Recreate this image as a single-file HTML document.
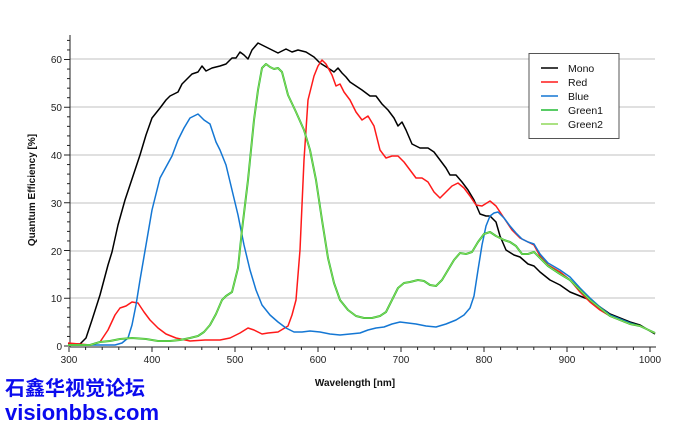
<!DOCTYPE html>
<html><head><meta charset="utf-8"><style>
body{margin:0;background:#fff;width:690px;height:428px;overflow:hidden;font-family:"Liberation Sans",sans-serif}
svg{position:absolute;left:0;top:0}
.wm{position:absolute;left:5px;color:#0a0aee;font-weight:bold;font-family:"Liberation Sans","Noto Sans CJK SC",sans-serif;white-space:nowrap}
</style></head><body>
<svg width="690" height="428" xmlns="http://www.w3.org/2000/svg" font-family="Liberation Sans, sans-serif">
<g stroke="#d6d6d6" stroke-width="1.5">
<line x1="70" x2="655" y1="59" y2="59"/><line x1="70" x2="655" y1="107" y2="107"/><line x1="70" x2="655" y1="155" y2="155"/><line x1="70" x2="655" y1="203" y2="203"/><line x1="70" x2="655" y1="251" y2="251"/><line x1="70" x2="655" y1="298" y2="298"/>
</g>
<g stroke="#222" stroke-width="1">
<line x1="70" y1="35" x2="70" y2="347"/><line x1="70" y1="347" x2="656" y2="347"/>
</g>
<g stroke="#222" stroke-width="1" id="ticks"></g>
<g font-size="10" fill="#222" text-anchor="end">
<text x="62" y="350">0</text><text x="62" y="302">10</text><text x="62" y="255">20</text><text x="62" y="207">30</text><text x="62" y="159">40</text><text x="62" y="111">50</text><text x="62" y="63">60</text>
</g>
<g font-size="10" fill="#222" text-anchor="middle">
<text x="69" y="363">300</text><text x="152" y="363">400</text><text x="235" y="363">500</text><text x="318" y="363">600</text><text x="401" y="363">700</text><text x="484" y="363">800</text><text x="567" y="363">900</text><text x="650" y="363">1000</text>
</g>
<text x="355" y="386" font-size="10" font-weight="bold" text-anchor="middle" fill="#111">Wavelength [nm]</text>
<text transform="translate(35,190) rotate(-90)" font-size="10" font-weight="bold" text-anchor="middle" fill="#111">Quantum Efficiency [%]</text>
<g fill="none" stroke-width="1.5" stroke-linejoin="round">
<polyline stroke="#000" points="68,344 80,344 86,338 92,320 100,295 108,265 112,252 118,225 125,200 130,185 135,170 140,155 146,135 152,118 160,108 166,100 170,96 178,92 182,84 186,80 192,74 198,72 202,66 206,71 212,68 220,66 226,64 232,58 236,58 240,52 244,55 248,59 252,50 258,43 264,46 270,49 278,53 286,49 292,52 298,50 306,52 314,57 320,63 328,68 334,72 338,68 342,73 346,77 350,82 356,86 362,90 370,96 376,96 382,104 388,110 394,118 398,126 402,122 406,130 412,144 420,148 428,148 434,152 440,160 446,168 450,175 456,175 462,182 468,190 474,200 480,214 486,216 490,216 496,222 500,236 506,250 514,255 520,257 528,264 534,266 540,272 550,280 560,285 570,292 580,296 590,300 600,307 610,314 620,318 630,322 640,325 655,334"/>
<polyline stroke="#ff1a1a" points="68,343 90,345 100,342 108,330 115,315 120,308 126,306 132,302 138,303 144,312 150,320 158,328 166,334 176,338 190,341 205,340 220,340 230,338 240,333 248,328 254,330 262,334 268,333 278,332 288,326 292,315 296,300 300,250 304,160 308,100 314,76 318,66 322,60 326,64 332,75 336,86 340,84 344,92 350,100 356,112 362,120 368,116 374,126 380,150 386,158 392,156 398,156 404,162 410,170 416,178 422,178 428,182 434,192 440,198 446,192 452,186 458,183 464,188 470,196 476,205 482,206 490,201 496,206 504,218 512,230 520,238 528,242 534,245 540,256 548,265 560,272 570,280 580,292 590,302 600,310 610,316 620,320 630,324 640,326 655,333"/>
<polyline stroke="#1477d4" points="68,345 115,345 122,343 128,338 132,325 136,305 140,280 146,245 152,210 160,178 166,167 172,156 178,140 184,128 190,118 196,115 198,114 204,120 210,124 216,142 220,150 226,165 232,190 238,215 244,245 250,270 256,290 262,305 270,315 278,322 286,328 294,332 302,332 310,331 320,332 330,334 340,335 350,334 360,333 368,330 376,328 384,327 392,324 400,322 408,323 416,324 426,326 436,327 446,324 456,320 464,315 470,308 474,296 478,270 482,245 486,226 490,216 494,213 498,212 504,218 510,226 516,233 522,239 528,242 534,244 540,254 548,263 560,270 570,277 580,288 590,298 600,307 610,315 620,319 630,323 640,326 655,333"/>
<polyline stroke="#22bb33" stroke-width="2" points="68,345 90,345 100,342 110,341 120,339 132,338 146,339 158,341 170,341 180,340 190,338 198,336 204,332 210,325 216,314 222,300 226,296 232,292 238,268 242,230 248,180 254,120 258,90 262,68 266,64 270,67 274,69 278,68 282,72 288,95 296,112 304,130 310,150 316,180 322,220 328,258 334,283 340,300 348,310 356,316 364,318 372,318 380,316 386,312 392,300 398,288 404,283 410,282 418,280 424,281 430,285 436,286 442,280 448,270 454,260 460,253 466,254 472,252 478,242 484,234 490,232 496,236 504,240 510,242 516,246 522,254 528,254 534,252 540,258 548,266 560,274 570,280 580,290 590,300 600,308 610,316 620,320 630,324 640,326 655,333"/>
<polyline stroke="#8fd85a" stroke-width="1" points="68,345 90,345 100,342 110,341 120,339 132,338 146,339 158,341 170,341 180,340 190,338 198,336 204,332 210,325 216,314 222,300 226,296 232,292 238,268 242,230 248,180 254,120 258,90 262,68 266,64 270,67 274,69 278,68 282,72 288,95 296,112 304,130 310,150 316,180 322,220 328,258 334,283 340,300 348,310 356,316 364,318 372,318 380,316 386,312 392,300 398,288 404,283 410,282 418,280 424,281 430,285 436,286 442,280 448,270 454,260 460,253 466,254 472,252 478,242 484,234 490,232 496,236 504,240 510,242 516,246 522,254 528,254 534,252 540,258 548,266 560,274 570,280 580,290 590,300 600,308 610,316 620,320 630,324 640,326 655,333"/>
</g>
<rect x="529" y="53.5" width="90" height="85" fill="#fff" stroke="#555" stroke-width="1"/>
<g stroke-width="1.5">
<line x1="541" x2="558" y1="68" y2="68" stroke="#000"/>
<line x1="541" x2="558" y1="82" y2="82" stroke="#ff1a1a"/>
<line x1="541" x2="558" y1="96" y2="96" stroke="#1477d4"/>
<line x1="541" x2="558" y1="110" y2="110" stroke="#22bb33"/>
<line x1="541" x2="558" y1="124" y2="124" stroke="#8fd85a"/>
</g>
<g font-size="10.5" fill="#111">
<text x="568" y="72">Mono</text><text x="568" y="86">Red</text><text x="568" y="100">Blue</text><text x="568" y="114">Green1</text><text x="568" y="128">Green2</text>
</g>
</svg>
<div class="wm" style="top:372px;font-size:20px">石鑫华视觉论坛</div>
<div class="wm" style="top:400px;font-size:22px">visionbbs.com</div>
<script>
var g=document.getElementById('ticks'),s='';
for(var v=0;v<=64;v+=2){var y=346-v*4.775;s+='<line x1="'+(v%10==0?64:67)+'" x2="70" y1="'+y+'" y2="'+y+'"/>';}
for(var n=300;n<=1000;n+=20){var x=69+(n-300)*0.83;s+='<line x1="'+x+'" x2="'+x+'" y1="347" y2="'+(n%100==0?352:350)+'"/>';}
g.innerHTML=s;
</script>
</body></html>
